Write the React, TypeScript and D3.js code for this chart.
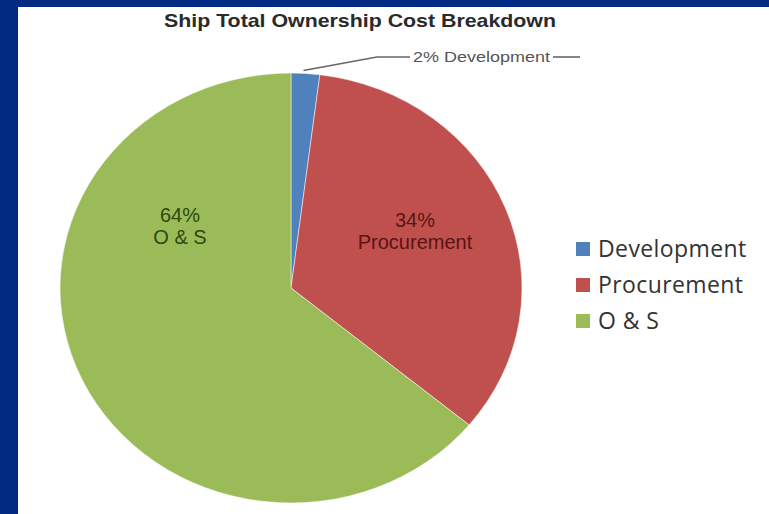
import React from "react";
import * as d3 from "d3";

const categories = ["Development", "Procurement", "O & S"];
const shares = [2, 34, 64];
const sliceLabels = ["2% Development", "34%\nProcurement", "64%\nO & S"];
const colors = ["#4f81bd", "#c0504d", "#9bbb59"];
const labelColors = ["#555555", "#5a1414", "#2c4a0e"];

const W = 769;
const H = 514;
const cx = 291;
const cy = 288;
const rx = 231;
const ry = 215;

const App = () => {
  const pie = d3.pie<number>().sort(null).value((d) => d);
  const arcs = pie(shares);
  const arc = d3.arc<d3.PieArcDatum<number>>().innerRadius(0).outerRadius(1);

  // where the leader line of the small slice touches the ellipse
  const dev = arcs[0];
  const devMid = (dev.startAngle + dev.endAngle) / 2;
  const lx = cx + rx * Math.sin(devMid);
  const ly = cy - ry * Math.cos(devMid);

  return (
    <div style={{ position: "absolute", left: 0, top: 0 }}>
      <svg width={W} height={H} style={{ display: "block" }}>
        <rect x={0} y={0} width={W} height={H} fill="#022a83" />
        <rect x={18} y={7} width={W - 18} height={H - 7} fill="#ffffff" />

        <text
          x={360}
          y={27}
          textAnchor="middle"
          fontFamily="Liberation Sans, Arial, sans-serif"
          fontWeight="bold"
          fontSize={19}
          textLength={392}
          lengthAdjust="spacingAndGlyphs"
          fill="#2a2a2a"
        >
          Ship Total Ownership Cost Breakdown
        </text>

        <g transform={`translate(${cx},${cy}) scale(${rx},${ry})`}>
          {arcs.map((a, i) => (
            <path
              key={categories[i]}
              d={arc(a) || ""}
              fill={colors[i]}
              stroke="#ffffff"
              strokeWidth={0.5}
              vectorEffect="non-scaling-stroke"
            />
          ))}
        </g>

        {/* leader line for the 2% slice */}
        <polyline
          points={`${lx - 2},${ly - 3} 377,57 410,57`}
          fill="none"
          stroke="#666666"
          strokeWidth={1.6}
        />
        <line x1={553} y1={57} x2={580} y2={57} stroke="#666666" strokeWidth={1.6} />
        <text
          x={413}
          y={62}
          fontFamily="Liberation Sans, Arial, sans-serif"
          fontSize={15}
          textLength={137}
          lengthAdjust="spacingAndGlyphs"
          fill={labelColors[0]}
        >
          {sliceLabels[0]}
        </text>

        {/* in-slice labels */}
        {[
          { i: 2, x: 180, y: 222 },
          { i: 1, x: 415, y: 227 },
        ].map(({ i, x, y }) => (
          <text
            key={i}
            x={x}
            y={y}
            textAnchor="middle"
            fontFamily="Liberation Sans, Arial, sans-serif"
            fontSize={20}
            fill={labelColors[i]}
          >
            {sliceLabels[i].split("\n").map((s, k) => (
              <tspan key={k} x={x} dy={k === 0 ? 0 : 22}>
                {s}
              </tspan>
            ))}
          </text>
        ))}

        {/* legend */}
        {categories.map((c, i) => (
          <g key={c} transform={`translate(576,${249 + i * 36})`}>
            <rect x={0} y={-7} width={14} height={14} fill={colors[i]} />
            <text
              x={22}
              y={8}
              fontFamily="Open Sans, DejaVu Sans, sans-serif"
              fontSize={23}
              letterSpacing={0.4}
              fill="#333333"
            >
              {c}
            </text>
          </g>
        ))}
      </svg>
    </div>
  );
};

export default App;
